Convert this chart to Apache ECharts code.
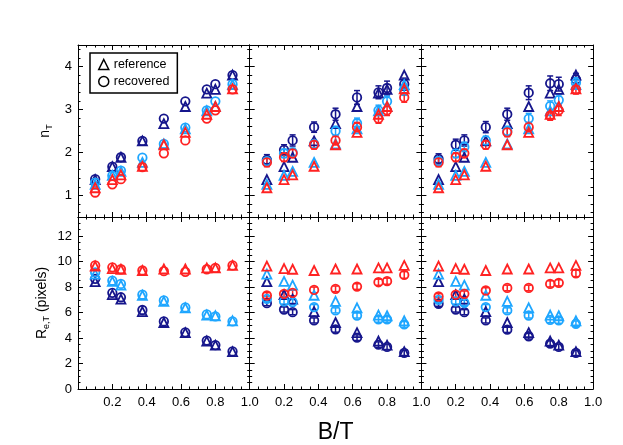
<!DOCTYPE html>
<html>
<head>
<meta charset="utf-8">
<script src="https://cdn.jsdelivr.net/npm/echarts@6/dist/echarts.min.js"></script>
<style>
  html, body { margin: 0; padding: 0; background: #fff; }
  #chart { width: 623px; height: 445px; }
</style>
</head>
<body>
<div id="chart"></div>
<script>
// bulge-to-total ratios of the models
const bt = [0.1, 0.2, 0.25, 0.375, 0.5, 0.625, 0.75, 0.8, 0.9];

// n_T, reference values (same in every column)
const nRefNavy = [1.37, 1.67, 1.89, 2.27, 2.67, 3.07, 3.38, 3.47, 3.80];
const nRefBlue = [1.26, 1.47, 1.56, 1.77, 2.20, 2.55, 2.97, 3.07, 3.58];
const nRefRed  = [1.18, 1.37, 1.48, 1.68, 2.18, 2.47, 2.89, 3.07, 3.48];

// n_T, recovered values per column
const nRec1Navy = [1.38, 1.67, 1.89, 2.27, 2.79, 3.19, 3.47, 3.59, 3.80];
const nRec1Blue = [1.30, 1.46, 1.58, 1.88, 2.20, 2.58, 2.98, 3.19, 3.59];
const nRec1Red  = [1.07, 1.26, 1.38, 1.66, 1.98, 2.28, 2.79, 2.98, 3.47];

const nRec2Navy = [1.83, 2.06, 2.28, 2.59, 2.89, 3.28, 3.40, 3.50, 3.59];
const nRec2Blue = [1.80, 1.98, 2.00, 2.20, 2.50, 2.68, 2.98, 3.19, 3.45];
const nRec2Red  = [1.77, 1.89, 1.98, 2.18, 2.28, 2.59, 2.79, 2.98, 3.28];
const nErr2Navy = [0.12, 0.12, 0.13, 0.12, 0.14, 0.16, 0.15, 0.16, 0.14];
const nErr2Blue = [0.10, 0.10, 0.10, 0.10, 0.11, 0.12, 0.12, 0.12, 0.12];
const nErr2Red  = [0.10, 0.10, 0.10, 0.10, 0.10, 0.11, 0.11, 0.12, 0.11];

const nRec3Navy = [1.85, 2.18, 2.28, 2.59, 2.89, 3.39, 3.61, 3.59, 3.70];
const nRec3Blue = [1.80, 1.98, 2.13, 2.28, 2.50, 2.79, 3.08, 3.22, 3.62];
const nRec3Red  = [1.77, 1.89, 1.98, 2.18, 2.47, 2.59, 2.86, 2.98, 3.47];
const nErr3Navy = [0.12, 0.13, 0.13, 0.13, 0.14, 0.16, 0.17, 0.16, 0.14];
const nErr3Blue = [0.10, 0.10, 0.11, 0.10, 0.11, 0.12, 0.12, 0.12, 0.12];
const nErr3Red  = [0.10, 0.10, 0.10, 0.10, 0.10, 0.11, 0.11, 0.12, 0.11];

// R_e,T in pixels, reference values
const rRefNavy = [8.42, 7.40, 7.05, 6.08, 5.22, 4.42, 3.76, 3.44, 2.93];
const rRefBlue = [9.02, 8.44, 8.15, 7.36, 6.88, 6.37, 5.80, 5.75, 5.35];
const rRefRed  = [9.65, 9.45, 9.40, 9.30, 9.42, 9.42, 9.50, 9.50, 9.70];

// R_e,T recovered values per column
const rRec1Navy = [8.65, 7.55, 7.20, 6.20, 5.30, 4.45, 3.80, 3.45, 2.95];
const rRec1Blue = [9.15, 8.50, 8.25, 7.40, 6.95, 6.40, 5.85, 5.70, 5.30];
const rRec1Red  = [9.70, 9.55, 9.40, 9.30, 9.25, 9.20, 9.40, 9.50, 9.70];

const rRec2Navy = [6.74, 6.24, 6.03, 5.38, 4.68, 4.03, 3.48, 3.30, 2.83];
const rRec2Blue = [7.08, 6.87, 6.82, 6.43, 6.17, 5.77, 5.46, 5.46, 5.07];
const rRec2Red  = [7.34, 7.47, 7.54, 7.78, 7.86, 8.04, 8.38, 8.46, 8.95];
const rErr2Navy = [0.20, 0.20, 0.20, 0.20, 0.22, 0.22, 0.22, 0.22, 0.20];
const rErr2Blue = [0.20, 0.20, 0.20, 0.20, 0.20, 0.20, 0.22, 0.22, 0.22];
const rErr2Red  = [0.22, 0.22, 0.22, 0.22, 0.22, 0.22, 0.24, 0.24, 0.26];

const rRec3Navy = [6.69, 6.24, 6.03, 5.38, 4.66, 4.14, 3.56, 3.30, 2.83];
const rRec3Blue = [7.00, 6.87, 6.77, 6.43, 6.17, 5.77, 5.43, 5.38, 5.12];
const rRec3Red  = [7.26, 7.41, 7.47, 7.73, 7.93, 7.93, 8.25, 8.33, 9.08];
const rErr3Navy = [0.20, 0.20, 0.20, 0.20, 0.22, 0.22, 0.22, 0.22, 0.20];
const rErr3Blue = [0.20, 0.20, 0.20, 0.20, 0.20, 0.20, 0.22, 0.22, 0.22];
const rErr3Red  = [0.22, 0.22, 0.22, 0.22, 0.22, 0.22, 0.24, 0.24, 0.26];

const xTicks = [0, 0.2, 0.4, 0.6, 0.8, 1.0];
const nTicks = [1, 2, 3, 4];
const rTicks = [0, 2, 4, 6, 8, 10, 12];

const NAVY = '#16168c', BLUE = '#1ea6ff', RED = '#ff2222';
const FONT = 'Liberation Sans, Arial, sans-serif';

const panels = [
  { row: 0, col: 0, rows: [[nRefNavy, nRec1Navy, null], [nRefBlue, nRec1Blue, null], [nRefRed, nRec1Red, null]] },
  { row: 0, col: 1, rows: [[nRefNavy, nRec2Navy, nErr2Navy], [nRefBlue, nRec2Blue, nErr2Blue], [nRefRed, nRec2Red, nErr2Red]] },
  { row: 0, col: 2, rows: [[nRefNavy, nRec3Navy, nErr3Navy], [nRefBlue, nRec3Blue, nErr3Blue], [nRefRed, nRec3Red, nErr3Red]] },
  { row: 1, col: 0, rows: [[rRefNavy, rRec1Navy, null], [rRefBlue, rRec1Blue, null], [rRefRed, rRec1Red, null]] },
  { row: 1, col: 1, rows: [[rRefNavy, rRec2Navy, rErr2Navy], [rRefBlue, rRec2Blue, rErr2Blue], [rRefRed, rRec2Red, rErr2Red]] },
  { row: 1, col: 2, rows: [[rRefNavy, rRec3Navy, rErr3Navy], [rRefBlue, rRec3Blue, rErr3Blue], [rRefRed, rRec3Red, rErr3Red]] }
];
const colors = [NAVY, BLUE, RED];

function steps(a, b, s) {
  const out = [];
  for (let i = 0; a + i * s <= b + 1e-9; i++) out.push(+(a + i * s).toFixed(4));
  return out;
}
function minorOf(all, major) {
  return all.filter(v => !major.some(m => Math.abs(m - v) < 1e-6));
}
const xMinor = minorOf(steps(0, 1, 0.05), xTicks);
const nMinor = minorOf(steps(0.6, 4.4, 0.2), nTicks);
const rMinor = minorOf(steps(0, 13.5, 0.5), rTicks);

const grids = [], xAxis = [], yAxis = [], series = [];

function tickAxis(gi, pos, min, max, vals, len, line) {
  return {
    type: 'value', gridIndex: gi, position: pos, min: min, max: max,
    axisLine: { show: line, onZero: false, lineStyle: { color: '#000', width: 1 } },
    axisTick: { show: true, inside: true, length: len, customValues: vals, lineStyle: { color: '#000', width: 1 } },
    axisLabel: { show: false },
    splitLine: { show: false }
  };
}

function errItem(params, api) {
  const x = api.value(0), y = api.value(1), e = api.value(2);
  const lo = api.coord([x, y - e]), hi = api.coord([x, y + e]);
  const c = api.visual('color');
  const st = { stroke: c, lineWidth: 1.5 };
  return {
    type: 'group',
    children: [
      { type: 'line', shape: { x1: lo[0], y1: lo[1], x2: hi[0], y2: hi[1] }, style: st },
      { type: 'line', shape: { x1: lo[0] - 3, y1: lo[1], x2: lo[0] + 3, y2: lo[1] }, style: st },
      { type: 'line', shape: { x1: hi[0] - 3, y1: hi[1], x2: hi[0] + 3, y2: hi[1] }, style: st }
    ]
  };
}

panels.forEach((p, gi) => {
  const top = p.row === 0;
  const ymin = top ? 0.5 : 0, ymax = top ? 4.5 : 13.5;
  const yMaj = top ? nTicks : rTicks, yMin = top ? nMinor : rMinor;
  grids.push({ left: 78 + p.col * 171.7, top: top ? 45 : 217, width: 171.7, height: 172 });

  const xi = xAxis.length;
  const mainX = tickAxis(gi, 'bottom', 0, 1, xTicks, 5, true);
  if (!top) {
    mainX.axisLabel = { show: true, customValues: xTicks.slice(1), formatter: v => v.toFixed(1),
      margin: 7, fontSize: 13, color: '#000', fontFamily: FONT };
  }
  if (!top && p.col === 1) {
    mainX.name = 'B/T';
    mainX.nameLocation = 'middle';
    mainX.nameGap = 32;
    mainX.nameTextStyle = { fontSize: 23, color: '#000', fontFamily: FONT };
  }
  xAxis.push(mainX,
    tickAxis(gi, 'top', 0, 1, xTicks, 5, true),
    tickAxis(gi, 'bottom', 0, 1, xMinor, 2.5, false),
    tickAxis(gi, 'top', 0, 1, xMinor, 2.5, false));

  const yi = yAxis.length;
  const mainY = tickAxis(gi, 'left', ymin, ymax, yMaj, 5, true);
  if (p.col === 0) {
    mainY.axisLabel = { show: true, customValues: yMaj, margin: 6, fontSize: 13, color: '#000', fontFamily: FONT };
    mainY.nameLocation = 'middle';
    mainY.nameRotate = 90;
    mainY.nameGap = top ? 24 : 27;
    mainY.name = top ? '{a|n}{b|T}' : '{a|R}{b|e,T}{a| (pixels)}';
    mainY.nameTextStyle = {
      color: '#000', fontFamily: FONT,
      rich: {
        a: { fontSize: 14, lineHeight: 18, verticalAlign: 'middle', color: '#000', fontFamily: FONT },
        b: { fontSize: 9, lineHeight: 9, verticalAlign: 'bottom', color: '#000', fontFamily: FONT }
      }
    };
  }
  yAxis.push(mainY,
    tickAxis(gi, 'right', ymin, ymax, yMaj, 5, true),
    tickAxis(gi, 'left', ymin, ymax, yMin, 2.5, false),
    tickAxis(gi, 'right', ymin, ymax, yMin, 2.5, false));

  p.rows.forEach((r, ci) => {
    const [ref, rec, err] = r;
    const c = colors[ci];
    const mark = { color: 'transparent', borderColor: c, borderWidth: 1.8, opacity: 1 };
    series.push({
      name: 'reference', type: 'scatter', xAxisIndex: xi, yAxisIndex: yi,
      symbol: 'triangle', symbolSize: 9, itemStyle: mark, silent: true,
      data: bt.map((x, i) => [x, ref[i]])
    });
    series.push({
      name: 'recovered', type: 'scatter', xAxisIndex: xi, yAxisIndex: yi,
      symbol: 'circle', symbolSize: 8.5, itemStyle: mark, silent: true,
      data: bt.map((x, i) => [x, rec[i]])
    });
    if (err) {
      series.push({
        type: 'custom', xAxisIndex: xi, yAxisIndex: yi, itemStyle: { color: c, opacity: 1 }, silent: true,
        renderItem: errItem,
        data: bt.map((x, i) => [x, rec[i], err[i]])
      });
    }
  });
});

const chart = echarts.init(document.getElementById('chart'), null, { renderer: 'canvas' });
chart.setOption({
  animation: false,
  backgroundColor: '#fff',
  grid: grids,
  xAxis: xAxis,
  yAxis: yAxis,
  legend: {
    left: 90, top: 53, orient: 'vertical',
    padding: [5, 8, 5, 8], itemGap: 4, itemWidth: 10, itemHeight: 10,
    borderColor: '#000', borderWidth: 1.5, selectedMode: false,
    textStyle: { fontSize: 12.5, color: '#000', fontFamily: FONT },
    data: [
      { name: 'reference', icon: 'triangle', itemStyle: { color: 'transparent', borderColor: '#000', borderWidth: 1.5, opacity: 1 } },
      { name: 'recovered', icon: 'circle', itemStyle: { color: 'transparent', borderColor: '#000', borderWidth: 1.5, opacity: 1 } }
    ]
  },
  series: series
});
</script>
</body>
</html>
